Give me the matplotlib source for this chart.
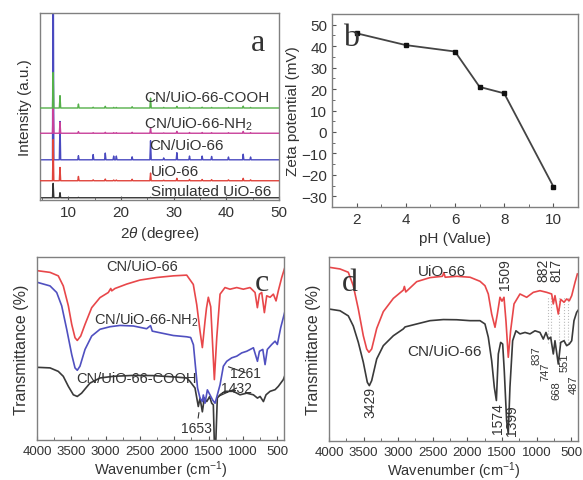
import numpy as np
import matplotlib
matplotlib.use("Agg")
import matplotlib.pyplot as plt
from matplotlib.ticker import MultipleLocator

plt.rcParams['font.family'] = ['Liberation Sans', 'DejaVu Sans']
plt.rcParams['mathtext.fontset'] = 'custom'
plt.rcParams['mathtext.rm'] = 'Liberation Sans'
plt.rcParams['mathtext.it'] = 'Liberation Sans:italic'
plt.rcParams['text.color'] = '#333333'
plt.rcParams['axes.labelcolor'] = '#333333'
plt.rcParams['xtick.color'] = '#555555'
plt.rcParams['ytick.color'] = '#555555'
plt.rcParams['xtick.labelcolor'] = '#333333'
plt.rcParams['ytick.labelcolor'] = '#333333'

# ---- (a) XRD: peak positions (2theta) and heights above each baseline ----
xrd_pos = [7.1, 8.4, 11.9, 14.7, 17.0, 18.6, 19.1, 22.1, 25.6, 28.1, 30.6, 33.0, 35.4, 37.2, 40.4, 43.2, 44.6]
xrd_sim = [7.7, 2.7, 0.2, 0, 0, 0, 0, 0, 0.2, 0, 0, 0, 0, 0, 0, 0, 0]
xrd_uio = [22, 7.1, 2.3, 0.5, 0.9, 0.4, 0.4, 0.8, 4.1, 0.3, 1.3, 0.7, 0.7, 0.6, 0.5, 1.3, 0.5]
xrd_cn = [130, 20.5, 2.2, 2.8, 3.6, 2.0, 2.0, 1.6, 10.2, 1.0, 3.8, 2.0, 2.0, 1.8, 1.5, 3.0, 1.5]
xrd_nh2 = [14, 5.9, 0.9, 0.3, 0.5, 0.3, 0.3, 0.5, 2.7, 0.2, 1.0, 0.4, 0.4, 0.3, 0.3, 1.0, 0.3]
xrd_cooh = [19, 6.6, 2.1, 0.4, 0.9, 0.3, 0.3, 0.7, 5.3, 0.3, 0.9, 0.4, 0.4, 0.3, 0.3, 1.0, 0.3]
xrd_base = [1.2, 10.3, 21.5, 35.7, 49.2]
xrd_names = ['Simulated UiO-66', 'UiO-66', 'CN/UiO-66', 'CN/UiO-66-NH$_2$', 'CN/UiO-66-COOH']

# ---- (b) zeta potential ----
ph = [2, 4, 6, 7, 8, 10]
zeta = [46, 40.5, 37.5, 21, 18, -25.5]

# ---- (c) FTIR (wavenumber, relative transmittance) ----
c_red_wn = [3990, 3810, 3690, 3617, 3543, 3494, 3446, 3413, 3363, 3300, 3203, 3082, 2961, 2925, 2911, 2863,
            2693, 2499, 2255, 2013, 1818, 1722, 1672, 1624, 1590, 1551, 1530, 1503, 1468, 1415, 1380, 1332,
            1260, 1187, 1089, 993, 895, 822, 788, 758, 725, 686, 652, 603, 555, 516, 483, 433, 390]
c_red_t = [92.5, 91.6, 89.7, 84.2, 73.3, 63.2, 55.9, 54.4, 56.8, 63.2, 72.3, 77.8, 80.6, 82.8, 81.5, 82.8,
           85.2, 87.4, 88.8, 89.7, 90.1, 85, 74, 59.5, 50.5, 65, 72, 78, 72.8, 33, 56, 79.7,
           83.3, 82.4, 83.3, 82.4, 83.3, 80.6, 72.3, 79.7, 80.6, 69.6, 78.8, 78, 79.7, 76, 81.5, 88.8, 94]
c_blue_wn = [3990, 3810, 3713, 3640, 3567, 3494, 3446, 3413, 3374, 3300, 3203, 3082, 2936, 2790, 2596, 2402,
             2345, 2320, 2207, 2013, 1818, 1760, 1720, 1690, 1660, 1624, 1590, 1576, 1551, 1517, 1478, 1439,
             1405, 1372, 1332, 1284, 1235, 1162, 1089, 1016, 943, 846, 787, 758, 709, 676, 643, 579, 530,
             497, 448, 385]
c_blue_t = [86.1, 84.2, 80.6, 73.3, 60.5, 46.7, 39.4, 38.1, 40.3, 49.5, 56.8, 60.5, 61.9, 62.6, 62.3, 60.8,
            62.5, 59.5, 58.6, 57.1, 56.4, 56, 52, 40, 28.4, 22.9, 21, 24.6, 20.1, 27.4, 24.6, 21.8,
            20.1, 24.6, 30.2, 40.3, 43, 44.9, 45.8, 47.6, 48.5, 50.4, 43, 48.5, 49.5, 41.2, 49.5, 52.2, 54,
            52.2, 61.4, 70.5]
c_blk_wn = [3990, 3810, 3690, 3617, 3543, 3470, 3413, 3350, 3228, 3082, 2888, 2596, 2316, 2013, 1818, 1770,
            1697, 1649, 1624, 1590, 1561, 1526, 1484, 1454, 1430, 1415, 1395, 1372, 1332, 1260, 1138, 1041,
            943, 846, 787, 748, 700, 662, 603, 530, 483, 410, 390]
c_blk_t = [39.7, 39.4, 37.5, 34.8, 29.3, 24.7, 23.8, 25.6, 31.1, 33.9, 34.8, 35.3, 35.2, 34.5, 33.9, 32,
           28.4, 18.3, 22.9, 15.4, 23, 21, 23.7, 20.1, 19.2, -2, -2, 22.9, 24.7, 26.6, 26.6, 24.7,
           25.6, 24.7, 22.9, 23.8, 21, 24.7, 26.6, 27.5, 29.3, 33, 35]

# ---- (d) FTIR ----
d_red_wn = [3996, 3841, 3721, 3649, 3576, 3504, 3455, 3422, 3383, 3310, 3215, 3070, 2926, 2910, 2890, 2732,
            2540, 2360, 2340, 2320, 2154, 1961, 1817, 1745, 1697, 1648, 1600, 1566, 1528, 1499, 1470, 1441,
            1408, 1374, 1325, 1239, 1142, 1046, 950, 853, 781, 757, 733, 685, 650, 602, 564, 526, 491, 443, 409]
d_red_t = [94.4, 93.5, 91.7, 84.4, 71.7, 57.2, 50, 48.2, 50, 61.2, 70.3, 77.5, 82, 84, 81, 86.6,
           88.8, 89.5, 91.5, 89, 89.5, 89, 86.8, 84.4, 79.9, 69, 61.8, 69, 78.1, 76, 78.1, 65,
           45.5, 60, 74.5, 79.9, 78.1, 80.8, 81.7, 80.8, 79.9, 74.5, 79, 69, 77, 75.4, 77.2, 76.2, 79, 86.2, 90.8]
d_blk_wn = [3996, 3841, 3721, 3649, 3576, 3504, 3446, 3417, 3383, 3310, 3215, 3070, 2926, 2900, 2732, 2540,
            2347, 2154, 1961, 1817, 1745, 1697, 1648, 1610, 1580, 1552, 1518, 1489, 1466, 1432, 1408, 1384,
            1345, 1297, 1239, 1166, 1094, 1022, 950, 902, 863, 829, 795, 757, 733, 685, 650, 602, 564, 526,
            491, 458, 420, 400]
d_blk_t = [71.7, 70.8, 68, 62.5, 53.6, 42.8, 31.9, 30.1, 32.8, 44.6, 51.8, 57.2, 60.9, 62, 63.6, 65.4,
           66, 65.9, 65.4, 65.4, 63.6, 56.4, 43.6, 29.2, 22, 47.3, 53.6, 52.7, 38.2, 11, 4, 29.2,
           54.5, 59.9, 58.2, 59, 58.2, 59.9, 59, 55.4, 59, 55.4, 56.4, 47.3, 54.5, 41.8, 53.6, 54.5, 51.8, 52.7,
           54.5, 65.4, 69.9, 71]
d_guide_wn = [830, 795, 670, 598, 540]
# peak labels in (d): text, x, y(top)
d_peak_txt = ['3429', '1574', '1399']
d_peak_x = [3407, 1557, 1359]
d_peak_y = [30, 21, 20]
d_small_txt = ['837', '747', '668', '551', '487']
d_small_x = [1000, 865, 715, 598, 465]
d_small_y = [52, 43, 33, 48, 36]
d_top_txt = ['1509', '882', '817']
d_top_x = [1456, 902, 708]


W, H = 583, 481
fig = plt.figure(figsize=(W / 100, H / 100), dpi=100)


def box(l, t, r, b):
    return [l / W, 1 - b / H, (r - l) / W, (b - t) / H]


def style(ax, fs):
    for s in ax.spines.values():
        s.set_color('#808080')
        s.set_linewidth(1.0)
    ax.tick_params(direction='in', labelsize=fs, length=3, width=0.8)
    ax.tick_params(which='minor', direction='in', length=2, width=0.6)


def peak_line(base, pos, hgt, w=0.13):
    xs, ys = [4.6], [base]
    for p, h in zip(pos, hgt):
        xs += [p - w, p, p + w]
        ys += [base, base + h, base]
    xs.append(50)
    ys.append(base)
    return xs, ys


serif = ['Liberation Serif', 'DejaVu Serif']

# ---------------- (a) ----------------
ax = fig.add_axes(box(40, 14, 279, 201))
style(ax, 11)
cols_a = ['#333333', '#e0443c', '#4a4ac0', '#c8409a', '#55b04a']
zord = [1, 3, 2, 4, 5]
for base, hg, c, z in zip(xrd_base, [xrd_sim, xrd_uio, xrd_cn, xrd_nh2, xrd_cooh], cols_a, zord):
    xs, ys = peak_line(base, xrd_pos, hg)
    ax.plot(xs, ys, color=c, lw=1.0, zorder=z)
ax.set_xlim(4.6, 50)
ax.set_ylim(0, 100)
ax.set_yticks([])
ax.xaxis.set_major_locator(MultipleLocator(10))
ax.xaxis.set_minor_locator(MultipleLocator(5))
ax.set_xlabel(r'2$\it{\theta}$ (degree)', fontsize=11, labelpad=4)
ax.set_ylabel('Intensity (a.u.)', fontsize=11, labelpad=6)
lab_y = [4.8, 15.5, 29.4, 41.2, 55.1]
lab_x = [25.6, 25.6, 25.4, 24.4, 24.4]
for t, x, y in zip(xrd_names, lab_x, lab_y):
    ax.text(x, y, t, fontsize=11, ha='left', va='center', zorder=6)
ax.text(0.94, 0.84, 'a', transform=ax.transAxes, fontsize=23, family=serif, ha='right', va='center')

# ---------------- (b) ----------------
ax = fig.add_axes(box(332, 15, 578, 208))
style(ax, 11)
ax.plot(ph, zeta, color='#444444', lw=1.3, marker='s', ms=3.5, mfc='#111111', mec='#111111')
ax.set_xlim(1, 11)
ax.set_ylim(-35, 55)
ax.xaxis.set_major_locator(MultipleLocator(2))
ax.xaxis.set_minor_locator(MultipleLocator(1))
ax.yaxis.set_major_locator(MultipleLocator(10))
ax.yaxis.set_minor_locator(MultipleLocator(5))
ax.set_xlabel('pH (Value)', fontsize=11, labelpad=4)
ax.set_ylabel('Zeta potential (mV)', fontsize=11, labelpad=1)
ax.text(0.045, 0.88, 'b', transform=ax.transAxes, fontsize=23, family=serif, ha='left', va='center')

# ---------------- (c) ----------------
ax = fig.add_axes(box(37, 258, 284, 441))
style(ax, 9.5)
ax.plot(c_blk_wn, c_blk_t, color='#3a3a3a', lw=1.2)
ax.plot(c_blue_wn, c_blue_t, color='#5050c0', lw=1.2)
ax.plot(c_red_wn, c_red_t, color='#e8474a', lw=1.2)
ax.set_xlim(4000, 400)
ax.set_ylim(0, 100)
ax.set_yticks([])
ax.set_xticks([4000, 3500, 3000, 2500, 2000, 1500, 1000, 500])
ax.xaxis.set_minor_locator(MultipleLocator(250))
ax.set_xlabel('Wavenumber (cm$^{-1}$)', fontsize=10.5, labelpad=1)
ax.set_ylabel('Transmittance (%)', fontsize=11.5, labelpad=6)
ax.text(2462, 95, 'CN/UiO-66', fontsize=10.5, ha='center', va='center')
ax.text(2411, 66, 'CN/UiO-66-NH$_2$', fontsize=10.5, ha='center', va='center')
ax.text(2550, 34, 'CN/UiO-66-COOH', fontsize=10.5, ha='center', va='center')
ax.annotate('1653', xy=(1640, 15), xytext=(1672, 6.6), fontsize=10, ha='center', va='center',
            arrowprops=dict(arrowstyle='-', lw=0.8, color='#333333', shrinkA=6, shrinkB=0))
ax.annotate('1432', xy=(1345, 24), xytext=(1090, 28.4), fontsize=10, ha='center', va='center',
            arrowprops=dict(arrowstyle='-', lw=0.8, color='#333333', shrinkA=16, shrinkB=0))
ax.annotate('1261', xy=(1210, 40), xytext=(965, 36.8), fontsize=10, ha='center', va='center',
            arrowprops=dict(arrowstyle='-', lw=0.8, color='#333333', shrinkA=16, shrinkB=0))
ax.text(0.91, 0.86, 'c', transform=ax.transAxes, fontsize=23, family=serif, ha='center', va='center')

# ---------------- (d) ----------------
ax = fig.add_axes(box(329, 258, 578, 442))
style(ax, 9.5)
ax.vlines(d_guide_wn, 53, 78, colors='#bbbbbb', linestyles=':', lw=0.8)
ax.plot(d_blk_wn, d_blk_t, color='#3a3a3a', lw=1.2)
ax.plot(d_red_wn, d_red_t, color='#e8474a', lw=1.2)
ax.set_xlim(4000, 400)
ax.set_ylim(0, 100)
ax.set_yticks([])
ax.set_xticks([4000, 3500, 3000, 2500, 2000, 1500, 1000, 500])
ax.xaxis.set_minor_locator(MultipleLocator(250))
ax.set_xlabel('Wavenumber (cm$^{-1}$)', fontsize=10.5, labelpad=1)
ax.set_ylabel('Transmittance (%)', fontsize=11.5, labelpad=6)
ax.text(2371, 92.6, 'UiO-66', fontsize=11, ha='center', va='center')
ax.text(2323, 49, 'CN/UiO-66', fontsize=11, ha='center', va='center')
for t, x, y in zip(d_peak_txt, d_peak_x, d_peak_y):
    ax.text(x, y, t, fontsize=10, rotation=90, ha='center', va='top')
for t, x, y in zip(d_small_txt, d_small_x, d_small_y):
    ax.text(x, y, t, fontsize=8, rotation=90, ha='center', va='top')
for t, x in zip(d_top_txt, d_top_x):
    ax.text(x, 99.5, t, fontsize=10, rotation=90, ha='center', va='top')
ax.text(0.05, 0.86, 'd', transform=ax.transAxes, fontsize=23, family=serif, ha='left', va='center')

fig.savefig('out.png', dpi=100)
